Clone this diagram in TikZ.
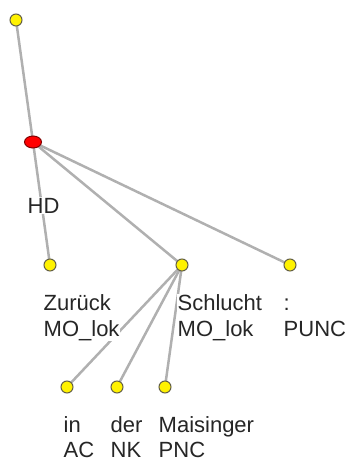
\documentclass[tikz,border=0pt]{standalone}
\usepackage{fontspec}
\setmainfont{Liberation Sans}
\usetikzlibrary{shapes.geometric}
\definecolor{edgegray}{HTML}{B0B0B0}
\definecolor{leafyellow}{HTML}{FFF200}
\begin{document}
\begin{tikzpicture}[x=1pt,y=-1pt]
\tikzset{
  edge/.style={draw=edgegray, line width=2.5pt},
  leaf/.style={circle, fill=leafyellow, draw=black!70!yellow, line width=1pt, minimum size=12pt, inner sep=0pt},
  rootnode/.style={ellipse, fill=red, draw=red!50!black, line width=1pt, minimum width=17pt, minimum height=12pt, inner sep=0pt},
  lbl/.style={anchor=base west, inner sep=0.5pt, fill=white, text=black!85, font=\fontsize{22}{26}\selectfont}
}
\useasboundingbox (0,0) rectangle (347,464);
% node positions
\coordinate (ptop) at (16,20);
\coordinate (pred) at (33,142);
\coordinate (pzu) at (50,265);
\coordinate (psc) at (182,265);
\coordinate (ppu) at (290,265);
\coordinate (pin) at (67,387);
\coordinate (pder) at (117,387);
\coordinate (pmai) at (165,387);
% edges
\draw[edge] (ptop) -- (pred);
\draw[edge] (pred) -- (pzu);
\draw[edge] (pred) -- (psc);
\draw[edge] (pred) -- (ppu);
\draw[edge] (psc) -- (pin);
\draw[edge] (psc) -- (pder);
\draw[edge] (psc) -- (pmai);
% labels
\node[lbl] (hd) at (27,213) {HD};
\node[lbl] (zuw) at (43,310) {Zurück};
\node[lbl] (zur) at (43,336) {MO\_lok};
\node[lbl] (scw) at (177,310) {Schlucht};
\node[lbl] (scr) at (177,336) {MO\_lok};
\node[lbl] (puw) at (283,310) {:};
\node[lbl] (pur) at (283,336) {PUNC};
\node[lbl] (inw) at (63,432) {in};
\node[lbl] (inr) at (63,457) {AC};
\node[lbl] (derw) at (110,432) {der};
\node[lbl] (derr) at (110,457) {NK};
\node[lbl] (maiw) at (158,432) {Maisinger};
\node[lbl] (mair) at (158,457) {PNC};
% nodes
\node[leaf] (top) at (ptop) {};
\node[rootnode] (red) at (pred) {};
\node[leaf] (zu) at (pzu) {};
\node[leaf] (sc) at (psc) {};
\node[leaf] (pu) at (ppu) {};
\node[leaf] (in) at (pin) {};
\node[leaf] (der) at (pder) {};
\node[leaf] (mai) at (pmai) {};
\end{tikzpicture}
\end{document}
